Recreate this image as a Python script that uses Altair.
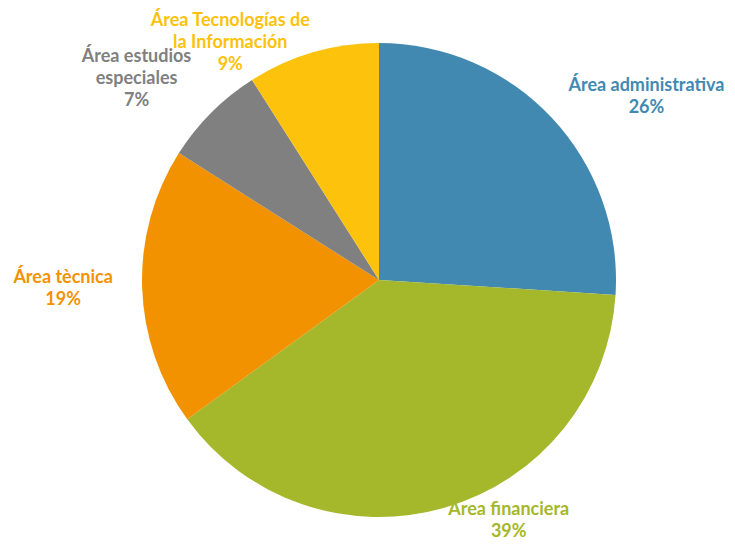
import altair as alt
import pandas as pd

categories = [
    "Área administrativa",
    "Área financiera",
    "Área tècnica",
    "Área estudios especiales",
    "Área Tecnologías de la Información",
]
label_lines = [
    "Área administrativa",
    "Área financiera",
    "Área tècnica",
    "Área estudios\nespeciales",
    "Área Tecnologías de\nla Información",
]
values = [26, 39, 19, 7, 9]
colors = ["#4289B2", "#A5B72A", "#F39200", "#808080", "#FCC20C"]

df = pd.DataFrame({
    "categoria": categories,
    "etiqueta": label_lines,
    "valor": values,
    "orden": list(range(len(categories))),
})
df["texto"] = df["etiqueta"] + "\n" + df["valor"].astype(str) + "%"

CX, CY = 371, 272
R = 237
RL = 275

color_scale = alt.Scale(domain=categories, range=colors)
theta_scale = alt.Scale(domain=[0, 100])

pie = alt.Chart(df).mark_arc(outerRadius=R).encode(
    theta=alt.Theta("valor:Q", stack=True, scale=theta_scale),
    color=alt.Color("categoria:N", scale=color_scale, legend=None),
    order=alt.Order("orden:Q"),
    x=alt.value(CX),
    y=alt.value(CY),
)

base = alt.Chart(df).transform_window(
    cum="sum(valor)", sort=[alt.SortField("orden")]
).transform_calculate(mid="datum.cum - datum.valor / 2")

offsets = {
    "Área administrativa": (67, -6),
    "Área financiera": (53, -34),
    "Área tècnica": (-41, -11),
    "Área estudios especiales": (-48, -29),
    "Área Tecnologías de la Información": (-72, 5),
}

layers = []
for cat in categories:
    dx, dy = offsets[cat]
    layers.append(
        base.transform_filter(alt.datum.categoria == cat)
        .mark_text(
            radius=RL, dx=dx, dy=dy, font="Lato", fontSize=18, fontWeight="bold",
            lineBreak="\n", lineHeight=22, align="center", baseline="middle",
        )
        .encode(
            theta=alt.Theta("mid:Q", stack=False, scale=theta_scale),
            text="texto:N",
            color=alt.Color("categoria:N", scale=color_scale, legend=None),
            x=alt.value(CX),
            y=alt.value(CY),
        )
    )

chart = alt.layer(pie, *layers).properties(
    width=719, height=534, padding=0, autosize="none"
).configure_view(stroke=None)

chart.save("out.html", embed_options={"renderer": "svg", "actions": False})
